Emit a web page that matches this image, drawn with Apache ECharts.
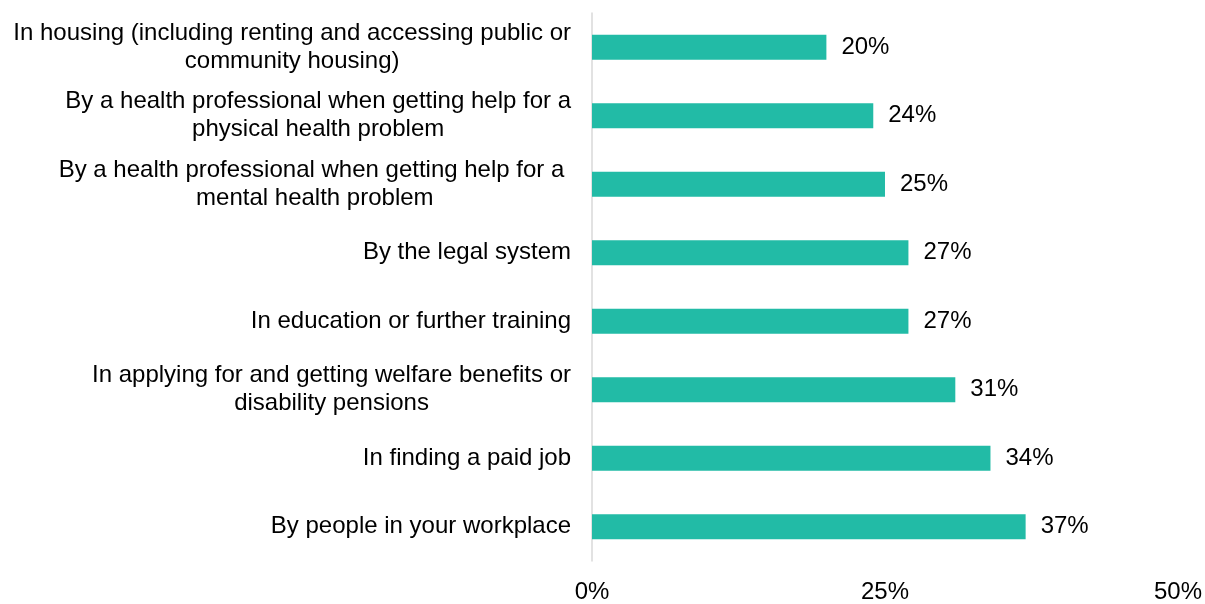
<!DOCTYPE html>
<html>
<head>
<meta charset="utf-8">
<script src="https://cdn.jsdelivr.net/npm/echarts@6/dist/echarts.min.js"></script>
<style>
  html, body { margin: 0; padding: 0; background: #ffffff; }
  #chart { width: 1205px; height: 604px; }
</style>
</head>
<body>
<div id="chart"></div>
<script>
// Where respondents reported being treated unfairly (share of respondents, %)
const categories = [
  'In housing (including renting and accessing public or\ncommunity housing)',
  'By a health professional when getting help for a\nphysical health problem',
  'By a health professional when getting help for a \nmental health problem',
  'By the legal system',
  'In education or further training',
  'In applying for and getting welfare benefits or\ndisability pensions',
  'In finding a paid job',
  'By people in your workplace'
];
const values = [20, 24, 25, 27, 27, 31, 34, 37];
const xTicks = [0, 25, 50];

const FONT = '"Liberation Sans", Arial, sans-serif';

const chart = echarts.init(document.getElementById('chart'), null, { renderer: 'canvas' });
chart.setOption({
  animation: false,
  backgroundColor: '#ffffff',
  grid: { left: 592, right: 23, top: 13, bottom: 39, containLabel: false },
  xAxis: {
    type: 'value',
    min: xTicks[0],
    max: xTicks[xTicks.length - 1],
    interval: xTicks[1] - xTicks[0],
    axisLine: { show: false },
    axisTick: { show: false },
    splitLine: { show: false },
    axisLabel: {
      formatter: v => v + '%',
      fontFamily: FONT,
      fontSize: 24,
      color: '#000000',
      margin: 19
    }
  },
  yAxis: {
    type: 'category',
    data: categories,
    inverse: true,
    axisLine: { show: true, lineStyle: { color: '#d9d9d9', width: 1.5 } },
    axisTick: { show: false },
    splitLine: { show: false },
    axisLabel: {
      margin: 21,
      fontFamily: FONT,
      fontSize: 24,
      color: '#000000',
      lineHeight: 28,
      // each wrapped line is centred within its label block
      formatter: v => '{c|' + v + '}',
      rich: {
        c: { align: 'center', fontFamily: FONT, fontSize: 24, color: '#000000', lineHeight: 28 }
      }
    }
  },
  series: [{
    type: 'bar',
    data: values,
    barWidth: 25,
    itemStyle: { color: '#22bba6' },
    label: {
      show: true,
      position: 'right',
      distance: 15,
      formatter: p => p.value + '%',
      fontFamily: FONT,
      fontSize: 24,
      color: '#000000'
    }
  }]
});
</script>
</body>
</html>
